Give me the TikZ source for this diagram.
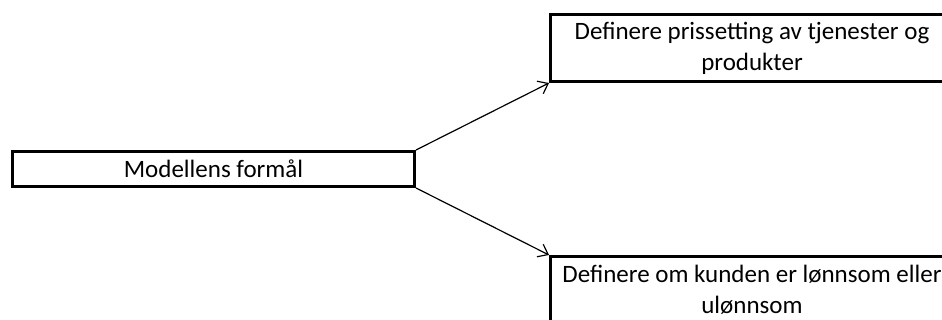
\documentclass[tikz,border=0pt]{standalone}
\usepackage{fontspec}
\setmainfont{Carlito}
\usetikzlibrary{arrows.meta}
\begin{document}
\begin{tikzpicture}[x=1pt,y=-1pt,
  box/.style={draw=black,line width=3pt,inner sep=0pt,align=center,
    font=\fontsize{25}{31}\selectfont,anchor=north west},
  conn/.style={line width=1.2pt,-{Straight Barb[length=9pt,width=14pt,line width=1.2pt]}}]
\useasboundingbox (0,0) rectangle (942,320);
\clip (0,0) rectangle (942,320);
\node[box,minimum width=402pt,minimum height=35pt] (m) at (11,150) {Modellens formål};
\node[box,minimum width=403pt,minimum height=67pt] (p) at (549,13) {Definere prissetting av tjenester og\\produkter};
\node[box,minimum width=403pt,minimum height=67pt] (k) at (549,255) {Definere om kunden er lønnsom eller\\ulønnsom};
\draw[conn] (m.north east) -- (p.south west);
\draw[conn] (m.south east) -- (k.north west);
\end{tikzpicture}
\end{document}
